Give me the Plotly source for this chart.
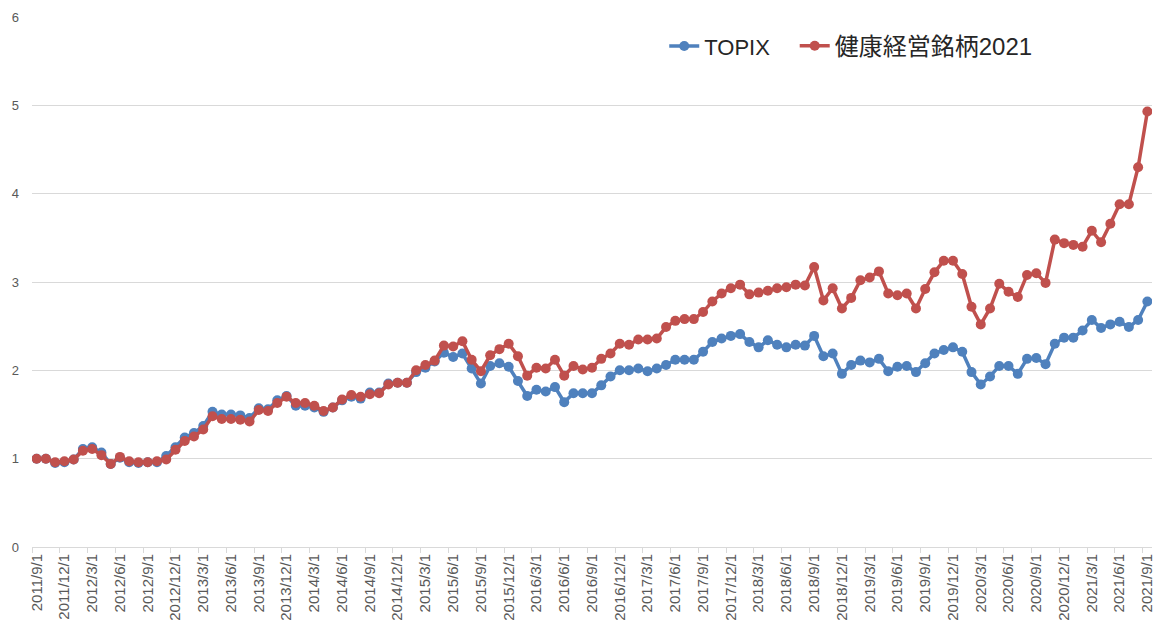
import plotly.graph_objects as go

# Monthly categories 2011/9/1 .. 2021/9/1
dates = [f"{2011 + (8 + i) // 12}/{(8 + i) % 12 + 1}/1" for i in range(121)]

topix = [1.00, 1.00, 0.95, 0.96, 0.99, 1.11, 1.13, 1.07, 0.94, 1.01,
         0.96, 0.95, 0.96, 0.96, 1.03, 1.13, 1.24, 1.29, 1.37, 1.53,
         1.50, 1.50, 1.49, 1.46, 1.57, 1.56, 1.66, 1.71, 1.60, 1.60,
         1.58, 1.53, 1.58, 1.66, 1.70, 1.68, 1.75, 1.75, 1.85, 1.86,
         1.86, 1.98, 2.03, 2.10, 2.20, 2.15, 2.19, 2.02, 1.85, 2.05,
         2.08, 2.04, 1.88, 1.71, 1.78, 1.76, 1.81, 1.64, 1.74, 1.74,
         1.74, 1.83, 1.93, 2.00, 2.00, 2.02, 1.99, 2.02, 2.06, 2.12,
         2.12, 2.12, 2.21, 2.32, 2.36, 2.39, 2.41, 2.32, 2.26, 2.34,
         2.29, 2.26, 2.29, 2.28, 2.39, 2.16, 2.19, 1.96, 2.06, 2.11,
         2.09, 2.13, 1.99, 2.04, 2.05, 1.98, 2.08, 2.19, 2.23, 2.26,
         2.21, 1.98, 1.84, 1.93, 2.05, 2.05, 1.96, 2.13, 2.14, 2.07,
         2.30, 2.37, 2.37, 2.45, 2.57, 2.48, 2.52, 2.55, 2.49, 2.57,
         2.78]

kenko = [1.00, 1.00, 0.96, 0.97, 0.99, 1.09, 1.11, 1.04, 0.94, 1.02,
         0.97, 0.96, 0.96, 0.97, 0.99, 1.10, 1.20, 1.25, 1.33, 1.48,
         1.45, 1.45, 1.44, 1.42, 1.55, 1.54, 1.63, 1.70, 1.63, 1.63,
         1.60, 1.54, 1.58, 1.67, 1.72, 1.70, 1.73, 1.74, 1.84, 1.86,
         1.86, 2.00, 2.06, 2.11, 2.28, 2.27, 2.33, 2.12, 1.99, 2.17,
         2.24, 2.30, 2.16, 1.94, 2.03, 2.02, 2.12, 1.94, 2.05, 2.01,
         2.03, 2.13, 2.19, 2.30, 2.29, 2.35, 2.35, 2.36, 2.49, 2.56,
         2.58, 2.58, 2.66, 2.78, 2.87, 2.93, 2.97, 2.86, 2.88, 2.90,
         2.93, 2.94, 2.97, 2.96, 3.17, 2.79, 2.93, 2.70, 2.82, 3.02,
         3.05, 3.12, 2.87, 2.85, 2.87, 2.70, 2.92, 3.11, 3.24, 3.24,
         3.09, 2.72, 2.52, 2.70, 2.98, 2.89, 2.83, 3.08, 3.10, 2.99,
         3.48, 3.44, 3.42, 3.40, 3.58, 3.45, 3.66, 3.88, 3.88, 4.30,
         4.93]

series_names = ["TOPIX", "健康経営銘柄2021"]
colors = ["#4F81BD", "#C0504D"]
legend_ids = ["legend", "legend2"]
legend_sizes = [22, 24]

idx = list(range(len(dates)))
tick_idx = idx[::3]
tick_text = [dates[i] for i in tick_idx]

fig = go.Figure()
for name, vals, col, lg in zip(series_names, [topix, kenko], colors, legend_ids):
    fig.add_trace(go.Scatter(
        x=idx, y=vals, name=name, mode="lines+markers",
        line=dict(color=col, width=3.5),
        marker=dict(color=col, size=10),
        hovertext=dates, legend=lg,
    ))

legend_common = dict(orientation="h", yanchor="middle", xanchor="left",
                     bgcolor="rgba(0,0,0,0)", itemwidth=30)
fig.update_layout(
    width=1155, height=623, autosize=False,
    margin=dict(l=32, r=0, t=17, b=76),
    plot_bgcolor="white", paper_bgcolor="white",
    font=dict(family="Liberation Sans, Noto Sans CJK JP", color="#595959"),
    showlegend=True,
    legend=dict(x=0.5645, y=0.945,
                font=dict(size=legend_sizes[0], color="#262626",
                          family="Liberation Sans, Noto Sans CJK JP"),
                **legend_common),
    legend2=dict(x=0.681, y=0.945,
                 font=dict(size=legend_sizes[1], color="#262626",
                           family="Liberation Sans, Noto Sans CJK JP"),
                 **legend_common),
)

fig.update_xaxes(
    range=[-0.5, len(dates) - 0.5],
    tickmode="array", tickvals=tick_idx, ticktext=tick_text,
    tickangle=-90, tickfont=dict(size=15, color="#595959"),
    ticklabeloverflow="allow",
    ticks="", showgrid=False, zeroline=False,
    showline=True, linecolor="#D9D9D9", linewidth=1,
    minor=dict(tickvals=[i - 0.5 for i in tick_idx], ticks="outside",
               ticklen=5, tickcolor="#D9D9D9", tickwidth=1, showgrid=False),
)
fig.update_yaxes(
    range=[0, 6], dtick=1, tick0=0,
    tickfont=dict(size=13, color="#595959"),
    showgrid=True, gridcolor="#D9D9D9", gridwidth=1,
    zeroline=False, showline=False, ticks="", ticklabelstandoff=12,
)

fig.write_html("out.html", config={"displayModeBar": False},
               post_script="document.body.style.margin='0px';")
